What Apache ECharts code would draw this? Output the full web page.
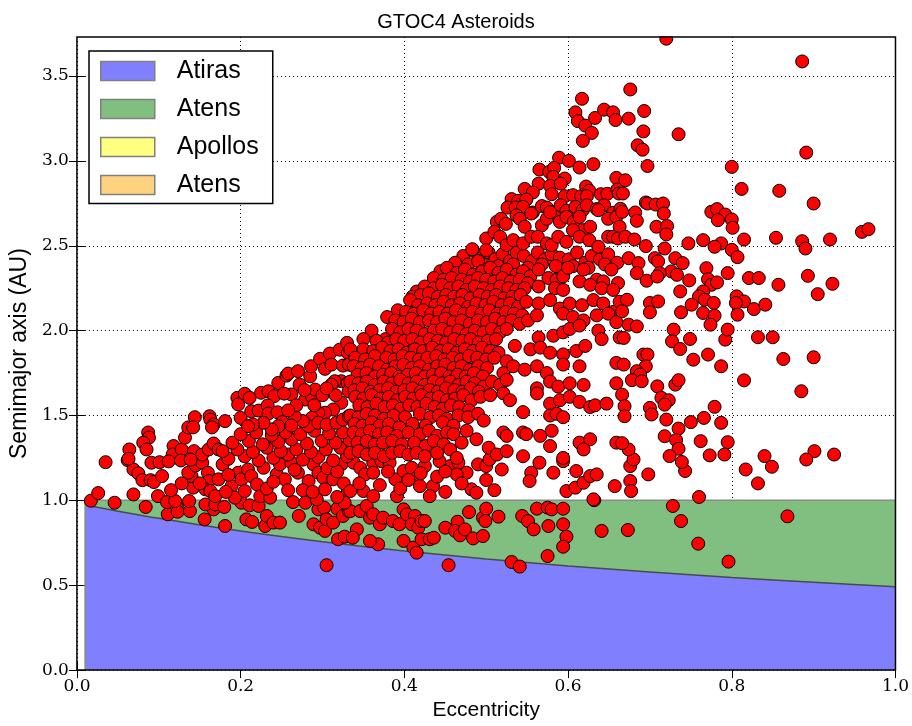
<!DOCTYPE html>
<html>
<head>
<meta charset="utf-8">
<script src="https://cdn.jsdelivr.net/npm/echarts@6/dist/echarts.min.js"></script>
<style>html,body{margin:0;padding:0;background:#fff;}#c{width:912px;height:726px;}</style>
</head>
<body>
<div id="c"></div>
<script>
// Boundary curve of the Atiras region (eccentricity, semimajor axis)
const boundE = [0.01, 0.1, 0.2, 0.3, 0.4, 0.5, 0.6, 0.7, 0.8, 0.9, 1.0];
const atirasTop = [0.973, 0.894, 0.819, 0.756, 0.702, 0.655, 0.614, 0.578, 0.546, 0.517, 0.491];
const atensTop = 1.0;

// Tick values of the axes
const xTicks = [0, 0.2, 0.4, 0.6, 0.8, 1.0];
const yTicks = [0, 0.5, 1.0, 1.5, 2.0, 2.5, 3.0, 3.5];

// Asteroids inside the Atens band (a < 1)
const atensZonePts = [
[0.084,0.961],[0.111,0.918],[0.122,0.966],[0.123,0.933],[0.138,0.937],[0.156,0.888],[0.167,0.947],[0.157,0.976],[0.169,0.976],[0.180,0.961],[0.181,0.849],[0.201,0.986],[0.211,0.971],[0.207,0.888],[0.214,0.873],[0.222,0.967],[0.230,0.849],[0.232,0.908],[0.240,0.869],[0.248,0.869],[0.271,0.908],[0.289,0.859],[0.297,0.839],[0.303,0.820],[0.295,0.947],[0.302,0.957],[0.305,0.888],[0.313,0.869],[0.319,0.771],[0.327,0.786],[0.305,0.618],[0.318,0.951],[0.325,0.908],[0.332,0.937],
[0.334,0.937],[0.342,0.829],[0.337,0.780],[0.346,0.937],[0.354,0.967],[0.358,0.898],[0.362,0.918],[0.370,0.859],[0.374,0.898],[0.368,0.741],[0.358,0.761],[0.386,0.878],[0.394,0.859],[0.399,0.947],[0.403,0.918],[0.413,0.908],[0.409,0.859],[0.417,0.839],[0.421,0.878],[0.425,0.878],[0.399,0.761],[0.411,0.722],[0.415,0.692],[0.421,0.771],[0.431,0.771],[0.436,0.780],[0.450,0.839],[0.465,0.874],[0.462,0.820],[0.468,0.794],[0.474,0.829],[0.479,0.931],[0.484,0.776],[0.496,0.790],[0.496,0.898],[0.500,0.951],[0.499,0.878],[0.515,0.904],[0.454,0.618],[0.531,0.637],[0.541,0.610],[0.544,0.908],[0.551,0.878],[0.558,0.829],[0.562,0.951],[0.575,0.957],[0.580,0.947],[0.576,0.849],[0.575,0.672],[0.594,0.951],[0.594,0.859],[0.598,0.786],[0.594,0.727],[0.632,1.001],[0.641,0.820],
[0.728,0.967],[0.738,0.878],[0.673,0.825],[0.759,0.745],[0.796,0.639],[0.868,0.906]
];

// Just above a = 1 (roughly 1.0 to 1.25)
const lowBandPts = [
[0.017,0.998],[0.026,1.043],[0.046,0.986],[0.069,1.035],[0.062,1.237],[0.035,1.225],[0.069,1.182],[0.075,1.159],[0.080,1.119],[0.090,1.119],[0.094,1.108],[0.091,1.222],[0.101,1.225],[0.104,1.143],[0.099,1.025],[0.110,0.990],[0.120,0.996],[0.137,0.996],[0.142,1.075],[0.140,1.143],[0.136,1.163],[0.145,1.206],[0.153,1.222],[0.160,1.163],[0.161,1.114],[0.157,1.065],[0.163,1.055],[0.169,1.025],[0.173,1.124],[0.178,1.212],[0.189,1.084],[0.193,1.016],[0.197,1.163],[0.201,1.124],[0.205,1.055],[0.209,1.182],[0.213,1.143],[0.220,1.094],[0.224,1.025],[0.228,1.192],[0.236,1.016],[0.244,1.153],[0.248,1.212],[0.254,1.124],[0.264,0.990],[0.262,1.222],[0.270,1.163],[0.279,0.986],[0.283,1.114],[0.289,1.212],[0.293,1.006],[0.295,1.163],[0.301,1.134],[0.303,1.065],[0.313,1.124],[0.323,1.212],[0.331,1.055],[0.327,0.986],
[0.115,1.06],[0.128,1.10],[0.150,1.10],[0.182,1.05],[0.185,1.15],[0.232,1.07],[0.240,1.11],[0.258,1.06],[0.266,1.18],[0.276,1.06],[0.288,1.05],[0.306,1.19],[0.318,1.02],[0.318,1.17],[0.326,1.10],
[0.338,1.222],[0.346,1.192],[0.362,1.222],[0.372,1.231],[0.352,1.153],[0.362,1.163],[0.389,1.124],[0.399,1.173],[0.409,1.192],[0.415,1.133],[0.419,1.084],[0.425,1.202],[0.435,1.084],[0.431,1.025],[0.456,1.202],[0.466,1.222],[0.476,1.163],[0.482,1.065],[0.488,1.045],[0.490,1.212],[0.500,1.202],[0.519,1.182],[0.464,1.153],[0.334,1.055],[0.350,1.055],[0.362,1.025],[0.391,1.025],[0.382,1.222],[0.443,1.231],[0.504,1.241],
[0.345,1.10],[0.370,1.09],[0.380,1.17],[0.395,1.07],[0.405,1.12],[0.440,1.14],[0.450,1.05],[0.470,1.10],[0.500,1.12],[0.510,1.06],[0.450,1.17],[0.420,1.16],
[0.555,1.163],[0.553,1.114],[0.565,1.222],[0.582,1.163],[0.594,1.231],[0.598,1.055],[0.609,1.075],[0.610,1.173],[0.619,1.104],[0.627,1.143],[0.635,1.153],[0.631,1.006],[0.657,1.084],
[0.676,1.202],[0.698,1.153],[0.743,1.173],[0.676,1.114],[0.677,1.055],[0.760,1.020],[0.817,1.182],[0.832,1.100],[0.849,1.198]
];

// Left part of the main cloud (e below about 0.33)
const leftCloudPts = [
[0.064,1.30],[0.063,1.245],[0.087,1.40],[0.088,1.37],[0.081,1.34],[0.085,1.30],[0.118,1.32],[0.117,1.27],[0.128,1.30],[0.132,1.37],[0.136,1.43],[0.144,1.49],[0.142,1.43],[0.143,1.29],[0.153,1.27],[0.162,1.496],[0.163,1.476],[0.167,1.447],[0.165,1.43],[0.181,1.467],[0.161,1.30],[0.167,1.335],[0.173,1.30],[0.112,1.23],[0.127,1.235],[0.139,1.24],
[0.185,1.245],[0.205,1.26],[0.222,1.235],[0.240,1.25],[0.258,1.27],[0.276,1.24],[0.295,1.255],[0.313,1.235],[0.330,1.26],
[0.178,1.29],[0.196,1.30],[0.215,1.285],[0.232,1.31],[0.249,1.29],[0.268,1.30],[0.286,1.285],[0.304,1.30],[0.322,1.31],
[0.190,1.34],[0.210,1.35],[0.227,1.33],[0.246,1.345],[0.262,1.36],[0.281,1.335],[0.299,1.35],[0.316,1.34],[0.333,1.355],
[0.200,1.39],[0.219,1.40],[0.238,1.385],[0.255,1.40],[0.273,1.39],[0.290,1.41],[0.308,1.395],[0.325,1.40],
[0.196,1.604],[0.197,1.565],[0.205,1.628],[0.211,1.604],[0.225,1.634],[0.234,1.643],[0.241,1.614],[0.200,1.486],[0.213,1.525],[0.222,1.529],[0.233,1.559],[0.234,1.512],[0.245,1.519],[0.251,1.461],[0.246,1.437],[0.238,1.418],[0.228,1.457],[0.215,1.447],[0.209,1.437],
[0.246,1.692],[0.256,1.735],[0.258,1.747],[0.270,1.761],[0.272,1.682],[0.262,1.624],[0.253,1.629],[0.279,1.594],[0.287,1.614],[0.291,1.653],[0.285,1.731],[0.286,1.79],[0.297,1.834],[0.303,1.775],[0.309,1.865],[0.311,1.80],[0.321,1.888],[0.325,1.794],[0.330,1.928],[0.331,1.869],[0.332,1.80],[0.323,1.702],[0.315,1.702],[0.311,1.682],[0.331,1.692],[0.332,1.643],[0.323,1.575],[0.313,1.535],[0.303,1.516],[0.295,1.516],[0.287,1.486],[0.283,1.437],[0.276,1.467],[0.266,1.496],[0.262,1.441],[0.295,1.457],[0.305,1.447],[0.317,1.457],[0.325,1.476],[0.332,1.496],
[0.300,1.62],[0.316,1.62],[0.305,1.66],[0.278,1.65],[0.268,1.56],[0.290,1.56],[0.258,1.53]
];

// Dense core of the cloud (e about 0.33 to 0.67, a about 1.25 to 2.47)
const coreCloudPts = [
[0.472,2.44],[0.484,2.47],[0.495,2.43],[0.503,2.46],[0.511,2.42],[0.520,2.45],[0.529,2.41],[0.537,2.46],[0.546,2.44],[0.556,2.41],[0.563,2.46],[0.572,2.42],[0.580,2.45],[0.590,2.43],[0.601,2.42],[0.611,2.46],[0.621,2.40],[0.629,2.44],[0.639,2.42],[0.649,2.45],[0.660,2.40],
[0.462,2.40],[0.478,2.39],[0.490,2.41],[0.515,2.38],[0.533,2.39],[0.551,2.37],[0.568,2.39],[0.585,2.38],[0.606,2.38],[0.625,2.37],[0.645,2.39],
[0.444,2.35],[0.452,2.37],[0.464,2.34],[0.474,2.36],[0.484,2.33],[0.495,2.35],[0.505,2.37],[0.515,2.34],[0.525,2.36],[0.537,2.33],[0.545,2.35],[0.554,2.32],[0.564,2.36],[0.576,2.31],[0.586,2.30],[0.594,2.32],[0.600,2.37],[0.614,2.29],[0.619,2.36],[0.635,2.30],[0.643,2.29],[0.653,2.36],[0.661,2.28],
[0.436,2.31],[0.448,2.30],[0.458,2.31],[0.470,2.30],[0.480,2.29],[0.490,2.31],[0.500,2.30],[0.510,2.29],[0.520,2.31],[0.530,2.29],[0.541,2.30],[0.551,2.28],
[0.415,2.23],[0.425,2.26],[0.436,2.25],[0.446,2.27],[0.456,2.25],[0.466,2.26],[0.476,2.24],[0.486,2.26],[0.497,2.25],[0.507,2.24],[0.517,2.26],[0.527,2.25],[0.537,2.24],[0.547,2.25],[0.564,2.26],[0.584,2.25],[0.594,2.24],[0.627,2.27],[0.641,2.25],[0.655,2.24],
[0.410,2.20],[0.420,2.21],[0.430,2.22],[0.441,2.20],[0.451,2.21],[0.461,2.20],[0.471,2.21],[0.481,2.19],[0.492,2.21],[0.502,2.20],[0.512,2.21],[0.522,2.19],[0.532,2.20],[0.542,2.21],
[0.407,2.18],[0.417,2.15],[0.428,2.16],[0.438,2.15],[0.448,2.17],[0.458,2.15],[0.468,2.16],[0.478,2.14],[0.488,2.16],[0.499,2.15],[0.509,2.17],[0.519,2.15],[0.529,2.16],[0.539,2.14],[0.549,2.17],[0.564,2.16],[0.578,2.18],[0.590,2.13],[0.602,2.16],[0.617,2.15],[0.631,2.18],[0.643,2.16],[0.655,2.11],[0.663,2.17],
[0.392,2.12],[0.402,2.11],[0.412,2.10],[0.423,2.12],[0.433,2.10],[0.443,2.11],[0.453,2.10],[0.463,2.12],[0.473,2.10],[0.483,2.11],[0.494,2.10],[0.504,2.12],[0.514,2.10],[0.524,2.11],[0.534,2.10],[0.544,2.09],
[0.379,2.08],[0.389,2.06],[0.399,2.05],[0.409,2.07],[0.419,2.05],[0.430,2.06],[0.440,2.05],[0.450,2.07],[0.460,2.05],[0.470,2.06],[0.480,2.04],[0.490,2.06],[0.501,2.05],[0.511,2.07],[0.521,2.05],[0.531,2.06],[0.541,2.04],[0.551,2.06],[0.562,2.09],[0.594,2.10],[0.606,2.08],[0.619,2.06],[0.635,2.09],[0.649,2.10],[0.659,2.05],
[0.360,2.00],[0.377,1.95],[0.385,2.01],[0.395,1.99],[0.405,2.01],[0.415,2.00],[0.425,1.98],[0.436,2.00],[0.446,2.01],[0.456,1.99],[0.466,2.00],[0.476,1.98],[0.486,2.00],[0.497,1.99],[0.507,2.01],[0.517,1.99],[0.525,2.01],[0.564,1.96],[0.582,1.97],[0.594,1.99],[0.602,2.01],[0.614,2.03],[0.637,2.00],[0.641,1.95],[0.663,1.96],
[0.350,1.95],[0.366,1.94],[0.380,1.93],[0.390,1.95],[0.400,1.94],[0.410,1.95],[0.420,1.93],[0.431,1.95],[0.441,1.94],[0.451,1.93],[0.461,1.95],[0.471,1.94],[0.481,1.95],[0.491,1.93],[0.502,1.94],[0.512,1.95],
[0.334,1.89],[0.350,1.89],[0.362,1.88],[0.373,1.90],[0.383,1.88],[0.393,1.89],[0.403,1.87],[0.413,1.89],[0.423,1.88],[0.434,1.90],[0.444,1.88],[0.454,1.89],[0.464,1.87],[0.474,1.89],[0.484,1.88],[0.495,1.90],[0.505,1.88],[0.515,1.87],[0.535,1.91],[0.554,1.89],[0.566,1.90],[0.578,1.87],[0.594,1.86],[0.610,1.88],[0.621,1.91],
[0.340,1.84],[0.352,1.83],[0.364,1.85],[0.378,1.84],[0.388,1.83],[0.398,1.85],[0.408,1.84],[0.418,1.83],[0.428,1.84],[0.439,1.85],[0.449,1.83],[0.459,1.84],[0.469,1.83],[0.479,1.85],[0.489,1.84],[0.500,1.83],[0.510,1.84],[0.525,1.82],
[0.338,1.79],[0.348,1.78],[0.358,1.80],[0.369,1.79],[0.379,1.77],[0.389,1.79],[0.399,1.80],[0.409,1.78],[0.419,1.79],[0.430,1.77],[0.440,1.79],[0.450,1.80],[0.460,1.78],[0.470,1.79],[0.480,1.77],[0.490,1.79],[0.501,1.78],[0.521,1.75],[0.533,1.79],[0.547,1.77],[0.562,1.79],[0.574,1.75],[0.594,1.80],[0.614,1.79],[0.659,1.81],
[0.343,1.74],[0.354,1.75],[0.364,1.73],[0.374,1.74],[0.384,1.75],[0.394,1.73],[0.404,1.74],[0.414,1.75],[0.425,1.73],[0.435,1.74],[0.445,1.75],[0.455,1.73],[0.465,1.74],[0.475,1.73],[0.485,1.75],[0.496,1.73],
[0.334,1.70],[0.344,1.69],[0.354,1.70],[0.364,1.68],[0.375,1.70],[0.385,1.69],[0.395,1.71],[0.405,1.69],[0.415,1.70],[0.425,1.68],[0.436,1.70],[0.446,1.69],[0.456,1.70],[0.466,1.68],[0.476,1.70],[0.486,1.69],[0.497,1.67],[0.507,1.70],[0.517,1.68],[0.525,1.71],[0.562,1.66],[0.578,1.70],[0.588,1.67],[0.602,1.69],[0.619,1.68],[0.659,1.69],
[0.339,1.65],[0.349,1.66],[0.359,1.64],[0.370,1.65],[0.380,1.66],[0.390,1.64],[0.400,1.65],[0.410,1.66],[0.420,1.64],[0.431,1.65],[0.441,1.64],[0.451,1.66],[0.461,1.65],[0.471,1.64],[0.481,1.66],[0.491,1.64],
[0.340,1.61],[0.350,1.60],[0.360,1.62],[0.371,1.60],[0.381,1.61],[0.391,1.59],[0.401,1.61],[0.411,1.60],[0.421,1.62],[0.432,1.60],[0.442,1.61],[0.452,1.59],[0.462,1.60],[0.472,1.62],[0.482,1.59],[0.493,1.61],[0.505,1.62],[0.521,1.63],[0.529,1.59],[0.562,1.63],[0.578,1.57],[0.590,1.59],[0.602,1.61],[0.614,1.58],[0.627,1.55],[0.633,1.56],[0.647,1.57],
[0.345,1.56],[0.355,1.55],[0.366,1.57],[0.376,1.55],[0.386,1.56],[0.396,1.54],[0.406,1.56],[0.416,1.55],[0.427,1.57],[0.437,1.55],[0.447,1.54],[0.457,1.56],[0.467,1.55],[0.479,1.53],
[0.334,1.50],[0.344,1.49],[0.354,1.51],[0.364,1.50],[0.375,1.48],[0.387,1.50],[0.401,1.49],[0.419,1.51],[0.432,1.49],[0.442,1.50],[0.452,1.48],[0.466,1.50],[0.478,1.49],[0.490,1.51],[0.497,1.47],[0.545,1.52],[0.578,1.50],[0.586,1.51],[0.594,1.49],
[0.339,1.45],[0.349,1.44],[0.360,1.46],[0.370,1.44],[0.381,1.45],[0.394,1.43],[0.410,1.45],[0.426,1.44],[0.447,1.46],[0.460,1.44],
[0.338,1.40],[0.348,1.39],[0.358,1.41],[0.369,1.39],[0.379,1.40],[0.391,1.38],[0.405,1.40],[0.419,1.39],[0.430,1.41],[0.440,1.38],[0.452,1.40],[0.460,1.39],[0.476,1.41],[0.488,1.36],[0.521,1.40],[0.525,1.38],[0.545,1.40],[0.549,1.39],[0.566,1.38],[0.580,1.41],[0.614,1.34],[0.627,1.36],[0.659,1.34],
[0.343,1.34],[0.354,1.35],[0.364,1.33],[0.374,1.34],[0.385,1.35],[0.397,1.33],[0.412,1.34],[0.426,1.32],[0.436,1.35],[0.448,1.33],[0.470,1.34],[0.503,1.31],
[0.334,1.28],[0.344,1.29],[0.354,1.27],[0.364,1.28],[0.375,1.26],[0.385,1.28],[0.395,1.29],[0.405,1.27],[0.415,1.28],[0.425,1.26],[0.440,1.28],[0.456,1.30],[0.464,1.25],[0.513,1.27],[0.525,1.29],[0.545,1.26],[0.578,1.32],[0.594,1.25],[0.619,1.30]
];

// Upper tip of the cloud (a above about 2.47, e about 0.48 to 0.67)
const upperCloudPts = [
[0.617,3.366],[0.609,3.286],[0.612,3.234],[0.621,3.208],[0.629,3.165],[0.618,3.118],[0.633,3.253],[0.644,3.302],[0.655,3.286],[0.658,3.241],[0.589,3.019],[0.601,3.0],[0.614,2.961],[0.631,2.981],[0.659,2.9],[0.565,2.949],[0.577,2.935],[0.583,2.959],[0.582,2.906],[0.596,2.896],[0.564,2.866],[0.578,2.853],[0.591,2.866],[0.547,2.835],[0.557,2.814],[0.580,2.804],[0.596,2.792],[0.606,2.798],[0.616,2.792],[0.622,2.849],[0.626,2.824],[0.623,2.792],[0.640,2.804],[0.648,2.806],[0.660,2.831],[0.662,2.808],[0.531,2.775],[0.539,2.765],[0.549,2.772],
[0.526,2.725],[0.536,2.725],[0.545,2.729],[0.557,2.696],[0.568,2.734],[0.574,2.725],[0.583,2.70],[0.591,2.739],[0.598,2.706],[0.609,2.729],[0.618,2.71],[0.623,2.739],[0.635,2.716],[0.644,2.739],[0.655,2.694],[0.664,2.718],
[0.513,2.641],[0.518,2.659],[0.524,2.629],[0.537,2.679],[0.541,2.659],[0.547,2.612],[0.555,2.690],[0.568,2.620],[0.574,2.659],[0.578,2.698],[0.590,2.641],[0.598,2.670],[0.607,2.641],[0.614,2.670],[0.618,2.592],[0.627,2.612],[0.637,2.710],[0.649,2.659],[0.659,2.670],[0.663,2.612],
[0.500,2.543],[0.510,2.582],[0.517,2.553],[0.525,2.504],[0.533,2.533],[0.545,2.514],[0.555,2.553],[0.563,2.553],[0.574,2.514],[0.580,2.504],[0.588,2.553],[0.598,2.523],[0.606,2.592],[0.614,2.553],[0.626,2.533],[0.637,2.494],[0.649,2.553],[0.655,2.553],[0.661,2.543],[0.483,2.480],[0.500,2.474]
];

// Sparse outer scatter (e above about 0.666)
const outerPts = [
[0.720,3.720],[0.886,3.586],[0.676,3.421],[0.693,3.294],[0.674,3.249],[0.692,3.174],[0.735,3.157],[0.685,3.092],[0.691,3.066],[0.697,2.970],[0.800,2.965],[0.891,3.049],[0.670,2.886],[0.667,2.808],[0.812,2.835],[0.858,2.824],[0.900,2.749],[0.695,2.755],[0.697,2.749],[0.707,2.743],[0.716,2.749],[0.717,2.690],[0.666,2.700],[0.682,2.696],[0.684,2.647],[0.708,2.612],[0.721,2.616],[0.720,2.567],[0.670,2.553],[0.681,2.537],[0.695,2.498],[0.718,2.484],[0.747,2.514],[0.765,2.533],[0.775,2.700],[0.782,2.716],[0.792,2.684],[0.800,2.655],[0.783,2.651],[0.801,2.606],[0.787,2.514],[0.779,2.494],[0.800,2.476],[0.815,2.537],[0.854,2.547],[0.886,2.527],[0.890,2.484],[0.920,2.537],[0.959,2.582],[0.967,2.598],
[0.674,2.427],[0.686,2.398],[0.684,2.339],[0.696,2.294],[0.706,2.427],[0.710,2.408],[0.731,2.427],[0.740,2.398],[0.726,2.349],[0.733,2.329],[0.712,2.339],[0.709,2.319],[0.748,2.296],[0.737,2.231],[0.769,2.368],[0.771,2.303],[0.775,2.270],[0.782,2.284],[0.765,2.231],[0.760,2.202],[0.751,2.153],[0.767,2.182],[0.778,2.163],[0.765,2.104],[0.779,2.088],[0.774,2.035],[0.738,2.108],[0.700,2.163],[0.710,2.172],[0.700,2.108],[0.672,2.182],[0.666,2.114],[0.674,2.035],[0.684,2.025],[0.668,1.957],[0.729,2.006],[0.727,1.937],[0.737,1.892],[0.749,1.951],[0.753,1.829],[0.771,1.859],[0.787,1.790],[0.792,1.947],[0.795,2.006],[0.795,2.339],[0.807,2.433],[0.821,2.310],[0.833,2.310],[0.857,2.270],[0.893,2.323],[0.905,2.215],[0.923,2.276],[0.806,2.202],[0.815,2.172],[0.805,2.163],[0.807,2.094],[0.827,2.127],[0.841,2.153],[0.832,1.961],[0.850,1.961],[0.863,1.833],[0.900,1.843],[0.815,1.707],[0.885,1.643],
[0.692,1.859],[0.697,1.859],[0.695,1.790],[0.684,1.761],[0.688,1.741],[0.678,1.708],[0.690,1.702],[0.668,1.800],[0.666,1.623],[0.669,1.555],[0.669,1.496],[0.709,1.672],[0.714,1.604],[0.723,1.590],[0.718,1.564],[0.731,1.682],[0.735,1.708],[0.700,1.545],[0.702,1.506],[0.720,1.476],[0.735,1.423],[0.718,1.378],[0.732,1.355],[0.735,1.304],[0.724,1.261],[0.750,1.461],[0.766,1.486],[0.779,1.551],[0.787,1.457],[0.762,1.349],[0.795,1.343],[0.791,1.270],[0.773,1.265],[0.739,1.226],[0.680,1.241],[0.674,1.300],[0.666,1.337],[0.840,1.261],[0.901,1.290],[0.925,1.270],[0.891,1.241]
];

const titleText = 'GTOC4 Asteroids';
const xName = 'Eccentricity';
const yName = 'Semimajor axis (AU)';
const legendNames = ['Atiras', 'Atens', 'Apollos', 'Atens '];
const legendColors = ['#8080ff', '#80bf80', '#ffff80', '#ffd280'];

const allPts = [].concat(atensZonePts, lowBandPts, leftCloudPts, coreCloudPts, upperCloudPts, outerPts);
const atirasData = boundE.map((e, i) => [e, atirasTop[i]]);
const atensData = boundE.map(e => [e, atensTop]);

const chart = echarts.init(document.getElementById('c'), null, {renderer: 'canvas'});
const tickFont = {fontFamily: 'DejaVu Serif', fontSize: 17, color: '#000'};
const splitDots = {show: true, lineStyle: {color: '#000', width: 1, type: [1, 3]}};
const tickIn = (vals) => ({show: true, inside: true, length: 8, customValues: vals, lineStyle: {color: '#000', width: 1}});

chart.setOption({
  animation: false,
  backgroundColor: '#fff',
  title: {text: titleText, left: 'center', top: 7, z: 20,
    textStyle: {fontFamily: 'Liberation Sans', fontSize: 20, fontWeight: 'normal', color: '#000'}},
  legend: {
    orient: 'vertical', left: 89, top: 51, z: 20,
    padding: [7.5, 14, 6, 11], itemGap: 13, itemWidth: 54, itemHeight: 19,
    backgroundColor: '#fff', borderColor: '#000', borderWidth: 1.5, borderRadius: 0,
    textStyle: {fontFamily: 'Liberation Sans', fontSize: 25, color: '#000', padding: [0, 0, 0, 17]},
    selectedMode: false,
    data: legendNames.map((n, i) => ({name: n, icon: 'rect',
      itemStyle: {color: legendColors[i], borderColor: '#808080', borderWidth: 1.5}}))
  },
  graphic: [{type: 'rect', z: 15, silent: true, shape: {x: 60, y: 0, width: 852, height: 36.2}, style: {fill: '#fff'}}],
  grid: {left: 76, right: 16, top: 37, bottom: 55, show: true, borderColor: '#000', borderWidth: 1.5, backgroundColor: 'transparent', z: 16},
  xAxis: [{
    type: 'value', min: 0, max: 1, interval: 0.2,
    name: xName, nameLocation: 'middle', nameGap: 29,
    nameTextStyle: {fontFamily: 'Liberation Sans', fontSize: 21, color: '#000'},
    axisLine: {show: false}, axisTick: tickIn(xTicks),
    axisLabel: Object.assign({margin: 8, customValues: xTicks, formatter: v => v.toFixed(1)}, tickFont),
    splitLine: splitDots
  }, {
    type: 'value', min: 0, max: 1, interval: 0.2, position: 'top',
    axisLine: {show: false}, axisTick: tickIn(xTicks),
    axisLabel: {show: false}, splitLine: {show: false}
  }],
  yAxis: [{
    type: 'value', min: 0, max: 3.73, interval: 0.5,
    name: yName, nameLocation: 'middle', nameGap: 38,
    nameTextStyle: {fontFamily: 'Liberation Sans', fontSize: 23, color: '#000'},
    axisLine: {show: false}, axisTick: tickIn(yTicks),
    axisLabel: Object.assign({margin: 8, customValues: yTicks, formatter: v => v.toFixed(1)}, tickFont),
    splitLine: splitDots
  }, {
    type: 'value', min: 0, max: 3.73, interval: 0.5, position: 'right',
    axisLine: {show: false}, axisTick: tickIn(yTicks),
    axisLabel: {show: false}, splitLine: {show: false}
  }],
  series: [
    {name: 'Atens', type: 'line', data: atensData, symbol: 'none', silent: true, z: 1,
      color: legendColors[1],
      lineStyle: {color: '#8a8a8a', width: 1.5}, areaStyle: {color: legendColors[1], opacity: 1}},
    {name: 'Atiras', type: 'line', data: atirasData, symbol: 'none', smooth: 0.3, silent: true, z: 2,
      color: legendColors[0],
      lineStyle: {color: '#4a4a4a', width: 1.5}, areaStyle: {color: legendColors[0], opacity: 1}},
    {name: 'edge', type: 'line', data: [[boundE[0], 0], [boundE[0], atensTop]], symbol: 'none', silent: true, z: 2,
      lineStyle: {color: '#8a8a8a', width: 1.5}},
    {name: 'Apollos', type: 'line', data: [], color: legendColors[2]},
    {name: 'Atens ', type: 'line', data: [], color: legendColors[3]},
    {name: 'asteroids', type: 'scatter', data: allPts, symbol: 'circle', symbolSize: 13, z: 5,
      itemStyle: {color: '#ff0000', borderColor: '#000', borderWidth: 1, opacity: 1}}
  ]
});
</script>
</body>
</html>
